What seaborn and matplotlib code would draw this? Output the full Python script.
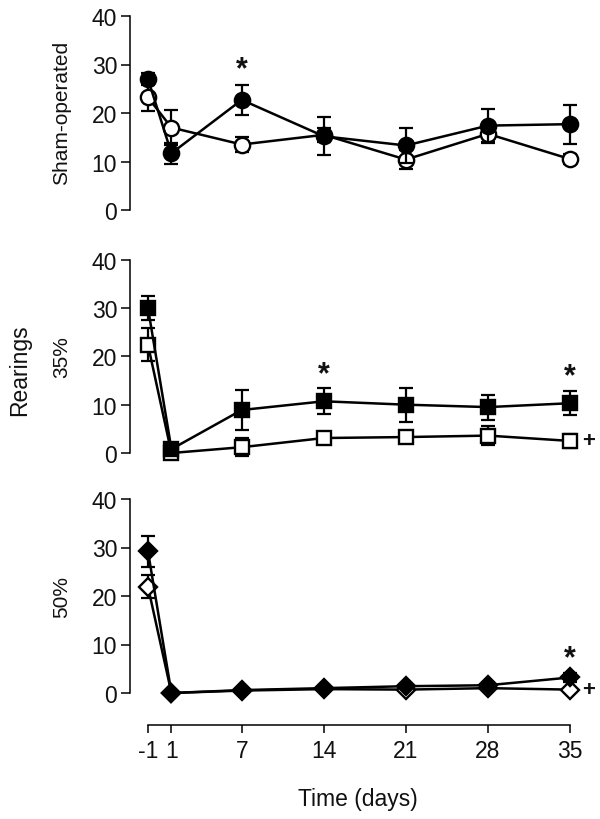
import numpy as np
import pandas as pd
import seaborn as sns
import matplotlib
matplotlib.use("Agg")
import matplotlib.pyplot as plt

sns.set_theme(style="ticks")
plt.rcParams['font.family'] = ['Liberation Sans', 'DejaVu Sans']

days = [-1, 1, 7, 14, 21, 28, 35]
xtick_labels = ["-1", "1", "7", "14", "21", "28", "35"]

# Sham-operated
sham_filled = [27.0, 11.7, 22.7, 15.2, 13.3, 17.4, 17.7]
sham_filled_sem = [1.2, 2.2, 3.1, 3.9, 3.6, 3.5, 4.0]
sham_open = [23.2, 17.0, 13.5, 15.5, 10.4, 15.7, 10.5]
sham_open_sem = [2.8, 3.6, 1.6, 1.5, 1.9, 1.7, 1.0]

# 35%
p35_filled = [30.0, 0.8, 8.9, 10.7, 10.0, 9.5, 10.3]
p35_filled_sem = [2.4, 0.5, 4.2, 2.7, 3.5, 2.6, 2.5]
p35_open = [22.4, 0.0, 1.2, 3.1, 3.3, 3.6, 2.5]
p35_open_sem = [3.4, 0.2, 1.9, 0.8, 0.8, 2.0, 1.4]

# 50%
p50_filled = [29.2, 0.0, 0.6, 1.0, 1.4, 1.6, 3.2]
p50_filled_sem = [3.2, 0.0, 0.3, 0.3, 0.4, 0.4, 1.0]
p50_open = [21.9, 0.0, 0.5, 0.8, 0.7, 1.0, 0.7]
p50_open_sem = [2.4, 0.0, 0.2, 0.2, 0.3, 0.3, 0.4]

panel_labels = ["Sham-operated", "35%", "50%"]
markers = ["o", "s", "D"]
msizes = [11, 10, 9]
stars = [[(7, 29.0)], [(14, 16.2), (35, 15.8)], [(35, 7.2)]]
plus_marks = [[], [(35, 2.5)], [(35, 0.7)]]

panels = [
    (sham_filled, sham_filled_sem, sham_open, sham_open_sem),
    (p35_filled, p35_filled_sem, p35_open, p35_open_sem),
    (p50_filled, p50_filled_sem, p50_open, p50_open_sem),
]

W, H = 600, 820
fig = plt.figure(figsize=(6, 8.2), dpi=100)
x0, x1 = 130.4, 587.6
tops = [17, 260.7, 500]
bots = [211, 454, 694]
TXT = "#111111"

for i, (f, fs, o, os_) in enumerate(panels):
    ax = fig.add_axes([x0 / W, 1 - bots[i] / H, (x1 - x0) / W, (bots[i] - tops[i]) / H])
    ax.errorbar(days, o, yerr=os_, fmt='none', ecolor='black', elinewidth=1.6,
                capsize=5, capthick=1.6, zorder=2, clip_on=False)
    ax.errorbar(days, f, yerr=fs, fmt='none', ecolor='black', elinewidth=1.6,
                capsize=5, capthick=1.6, zorder=4, clip_on=False)
    df_o = pd.DataFrame({"day": days, "val": o})
    df_f = pd.DataFrame({"day": days, "val": f})
    sns.lineplot(data=df_o, x="day", y="val", ax=ax, color="black", linewidth=1.8,
                 marker=markers[i], markersize=msizes[i], markerfacecolor="white",
                 markeredgecolor="black", markeredgewidth=1.7, zorder=3, clip_on=False)
    sns.lineplot(data=df_f, x="day", y="val", ax=ax, color="black", linewidth=1.8,
                 marker=markers[i], markersize=msizes[i], markerfacecolor="black",
                 markeredgecolor="black", markeredgewidth=1.7, zorder=5, clip_on=False)
    ax.set_xlim(-2.5, 36.5)
    ax.set_ylim(0, 40)
    ax.set_yticks([0, 10, 20, 30, 40])
    ax.set_xlabel("")
    ax.set_ylabel("")
    for s in ["top", "right"]:
        ax.spines[s].set_visible(False)
    ax.spines["left"].set_bounds(0, 40)
    ax.spines["left"].set_linewidth(1.1)
    ax.spines["left"].set_color("black")
    ax.tick_params(axis="y", labelsize=16.5, length=6.5, width=1.1, pad=3,
                   colors="black", labelcolor=TXT)
    if i < 2:
        ax.spines["bottom"].set_visible(False)
        ax.set_xticks([])
    else:
        ax.spines["bottom"].set_position(("outward", 23))
        ax.spines["bottom"].set_bounds(-1, 35)
        ax.spines["bottom"].set_linewidth(1.1)
        ax.spines["bottom"].set_color("black")
        ax.set_xticks(days)
        ax.set_xticklabels(xtick_labels)
        ax.tick_params(axis="x", labelsize=16.5, length=6, width=1.1, pad=4,
                       colors="black", labelcolor=TXT)
    ax.patch.set_alpha(0)
    for (sx, sy) in stars[i]:
        ax.text(sx, sy, "*", fontsize=22, fontweight="bold", ha="center", va="center",
                color=TXT)
    for (px, py) in plus_marks[i]:
        ax.annotate("+", xy=(px, py), xytext=(13, 0), textcoords="offset points",
                    fontsize=16, fontweight="bold", ha="center", va="center",
                    color=TXT, annotation_clip=False)

label_y = [113, 357, 597]
for i, lab in enumerate(panel_labels):
    fig.text(62 / W, 1 - label_y[i] / H, lab, rotation=90, ha="center", va="center",
             fontsize=15, color=TXT)
fig.text(20 / W, 1 - 370 / H, "Rearings", rotation=90, ha="center", va="center",
         fontsize=16.5, color=TXT)
fig.text(358 / W, 1 - 800 / H, "Time (days)", ha="center", va="center",
         fontsize=16.5, color=TXT)

fig.savefig("out.png", dpi=100, facecolor="white")
